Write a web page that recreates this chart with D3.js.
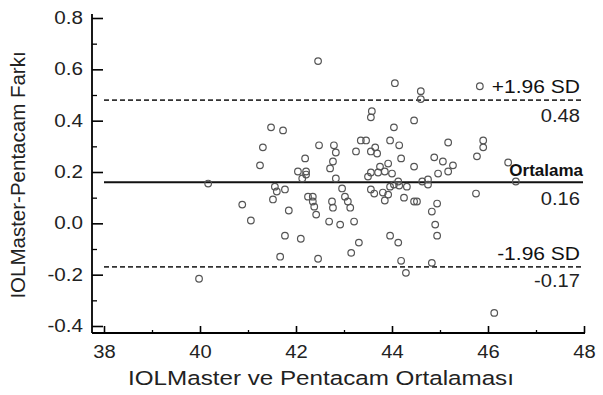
<!DOCTYPE html>
<html>
<head>
<meta charset="utf-8">
<script src="https://cdn.jsdelivr.net/npm/d3@7"></script>
<style>
  html, body { margin: 0; padding: 0; background: #fff; }
  svg { display: block; font-family: "Liberation Sans", Arial, sans-serif; }
</style>
</head>
<body>
<svg id="chart" width="603" height="395"></svg>
<script>
// Bland-Altman data: mean of the two methods (x) and difference (y)
const meanVals = [
  39.98, 40.17, 40.88, 41.06, 41.31, 41.25, 41.48, 41.73, 42.46, 42.48,
  42.79, 42.83, 42.19, 42.77, 42.71, 42.04, 42.21, 42.21, 42.13, 42.83,
  41.56, 41.60, 41.77, 41.52, 41.85, 42.25, 42.35, 42.35, 42.38, 42.42,
  42.75, 42.77, 42.69, 42.92, 41.77, 42.10, 41.67, 42.46, 43.58, 43.56,
  44.06, 44.60, 44.60, 44.46, 44.04, 43.25, 43.35, 43.46, 43.56, 43.65,
  43.69, 43.96, 44.15, 44.19, 44.46, 43.75, 43.92, 43.71, 43.85, 44.00,
  43.50, 43.56, 44.13, 44.15, 43.96, 44.04, 44.31, 44.63, 44.75, 44.75,
  42.96, 43.02, 43.08, 43.13, 43.21, 43.56, 43.63, 43.81, 43.92, 43.85,
  44.25, 44.46, 44.52, 43.96, 44.13, 43.31, 43.15, 44.19, 44.29, 44.88,
  45.06, 45.27, 45.17, 44.96, 45.17, 45.90, 45.90, 45.77, 45.83, 46.42,
  46.58, 45.75, 44.94, 44.83, 44.90, 44.94, 44.83, 46.13
];
const diffVals = [
  -0.216, 0.155, 0.073, 0.011, 0.296, 0.226, 0.374, 0.362, 0.632, 0.304,
  0.304, 0.276, 0.253, 0.241, 0.214, 0.202, 0.202, 0.190, 0.175, 0.175,
  0.143, 0.124, 0.132, 0.093, 0.050, 0.104, 0.104, 0.085, 0.065, 0.034,
  0.085, 0.061, 0.007, -0.005, -0.048, -0.060, -0.130, -0.138, 0.437, 0.413,
  0.546, 0.515, 0.484, 0.401, 0.374, 0.280, 0.323, 0.323, 0.280, 0.296,
  0.272, 0.323, 0.304, 0.253, 0.221, 0.221, 0.233, 0.198, 0.202, 0.194,
  0.182, 0.198, 0.163, 0.147, 0.143, 0.151, 0.143, 0.163, 0.171, 0.151,
  0.136, 0.104, 0.085, 0.061, 0.007, 0.132, 0.116, 0.120, 0.112, 0.089,
  0.100, 0.085, 0.085, -0.048, -0.075, -0.075, -0.115, -0.146, -0.193, 0.257,
  0.241, 0.226, 0.202, 0.194, 0.315, 0.323, 0.296, 0.261, 0.534, 0.237,
  0.163, 0.116, 0.077, 0.046, -0.005, -0.048, -0.154, -0.349
];
// reference lines
const lineNames  = ["+1.96 SD", "Ortalama", "-1.96 SD"];
const lineValues = [0.48, 0.16, -0.17];
const lineLabels = ["0.48", "0.16", "-0.17"];
// axes
const xTicks = [38, 40, 42, 44, 46, 48];
const xMinorTicks = [39, 41, 43, 45, 47];
const yTicks = [-0.4, -0.2, 0.0, 0.2, 0.4, 0.6, 0.8];
const yMinorTicks = [-0.3, -0.1, 0.1, 0.3, 0.5, 0.7];
const xTitle = "IOLMaster ve Pentacam Ortalaması";
const yTitle = "IOLMaster-Pentacam Farkı";

const svg = d3.select("#chart");
const x = d3.scaleLinear().domain([38, 48]).range([104, 584]);
const y = d3.scaleLinear().domain([-0.4, 0.8]).range([326, 18]);
const axisX = 92, axisY = 333;

function stretch(sel, f) {
  sel.each(function () {
    const w = this.getComputedTextLength();
    this.setAttribute("textLength", w * f);
    this.setAttribute("lengthAdjust", "spacingAndGlyphs");
  });
}

// Y axis
const gy = svg.append("g").attr("transform", `translate(${axisX},0)`);
gy.call(d3.axisLeft(y).tickValues(yTicks).tickSize(-11).tickPadding(9)
  .tickFormat(d3.format(".1f")));
gy.select(".domain").remove();
gy.selectAll(".tick line").attr("stroke", "#000").attr("stroke-width", 1.6);
gy.selectAll(".tick text").attr("font-size", 17.5).attr("fill", "#222")
  .attr("font-family", "Liberation Sans, Arial, sans-serif")
  .text(d => d3.format(".1f")(d).replace("−", "-"));
const gym = svg.append("g").attr("transform", `translate(${axisX},0)`);
gym.call(d3.axisLeft(y).tickValues(yMinorTicks).tickSize(-5).tickFormat(""));
gym.select(".domain").remove();
gym.selectAll(".tick line").attr("stroke", "#000").attr("stroke-width", 1.3);

// X axis
const gx = svg.append("g").attr("transform", `translate(0,${axisY})`);
gx.call(d3.axisBottom(x).tickValues(xTicks).tickSize(-7).tickPadding(12.5)
  .tickFormat(d3.format("d")));
gx.select(".domain").remove();
gx.selectAll(".tick line").attr("stroke", "#000").attr("stroke-width", 1.6);
gx.selectAll(".tick text").attr("font-size", 17.5).attr("fill", "#222")
  .attr("font-family", "Liberation Sans, Arial, sans-serif");
const gxm = svg.append("g").attr("transform", `translate(0,${axisY})`);
gxm.call(d3.axisBottom(x).tickValues(xMinorTicks).tickSize(-3).tickFormat(""));
gxm.select(".domain").remove();
gxm.selectAll(".tick line").attr("stroke", "#000").attr("stroke-width", 1.3);

// axis lines
svg.append("line").attr("x1", axisX).attr("x2", axisX)
  .attr("y1", y(0.8) - 4).attr("y2", axisY)
  .attr("stroke", "#000").attr("stroke-width", 1.8);
svg.append("line").attr("x1", axisX).attr("x2", x(48) + 1)
  .attr("y1", axisY).attr("y2", axisY)
  .attr("stroke", "#000").attr("stroke-width", 1.8);

// reference lines
lineValues.forEach((v, i) => {
  svg.append("line")
    .attr("x1", x(38)).attr("x2", x(48) - 1)
    .attr("y1", y(v)).attr("y2", y(v))
    .attr("stroke", i === 1 ? "#111" : "#333")
    .attr("stroke-width", i === 1 ? 2 : 1.8)
    .attr("stroke-dasharray", i === 1 ? null : "5,3");
});

// points
const pts = meanVals.map((m, i) => [m, diffVals[i]]);
svg.append("g").selectAll("circle").data(pts).join("circle")
  .attr("cx", d => x(d[0])).attr("cy", d => y(d[1])).attr("r", 3.3)
  .attr("fill", "none").attr("stroke", "#555").attr("stroke-width", 1.2);

// line labels
const nameBase = [93, 176, 260];
const valBase = [122, 205, 287];
lineNames.forEach((n, i) => {
  const t = svg.append("text").attr("x", i === 1 ? 583 : 580).attr("y", nameBase[i])
    .attr("text-anchor", "end").attr("fill", "#111")
    .attr("font-size", i === 1 ? 17 : 17.5)
    .attr("font-weight", i === 1 ? "bold" : "normal")
    .text(n);
  if (i !== 1) stretch(t, 1.2);
  const t2 = svg.append("text").attr("x", 580).attr("y", valBase[i])
    .attr("text-anchor", "end").attr("fill", "#222").attr("font-size", 17.5)
    .text(lineLabels[i]);
  stretch(t2, 1.15);
});

// titles
const xt = svg.append("text").attr("x", 321).attr("y", 385)
  .attr("text-anchor", "middle").attr("font-size", 20.5).attr("fill", "#222")
  .text(xTitle);
stretch(xt, 1.18);
svg.append("text").attr("transform", "translate(25,175) rotate(-90)")
  .attr("text-anchor", "middle").attr("font-size", 20.5).attr("fill", "#222")
  .text(yTitle);

stretch(gy.selectAll(".tick text"), 1.18);
stretch(gx.selectAll(".tick text"), 1.15);
</script>
</body>
</html>
